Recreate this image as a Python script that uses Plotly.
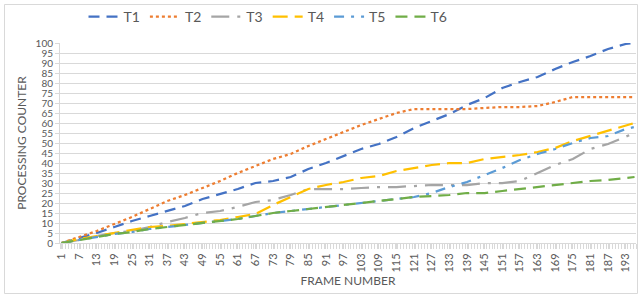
import plotly.graph_objects as go

frames = [1, 7, 13, 19, 25, 31, 37, 43, 49, 55, 61, 67, 73, 79, 85, 91, 97, 103, 109,
          115, 121, 127, 133, 139, 145, 151, 157, 163, 169, 175, 181, 187, 193, 196]

t1 = [0, 2.5, 5, 8, 11, 13.5, 16, 18.5, 22, 24.5, 27, 30, 31, 33, 37, 40, 43.5, 47, 49.5,
      53, 57.5, 61, 64.5, 69, 72.5, 77.5, 80.5, 83, 87, 90.5, 93.5, 97, 99.5, 100]
t2 = [0, 3, 6, 9.5, 13, 17, 21, 24, 27.5, 31, 35, 38.5, 42, 44.5, 48.5, 52, 55.5, 59, 62,
      65, 67, 67, 67, 67, 67.5, 68, 68, 68.5, 70.5, 73, 73, 73, 73, 73]
t3 = [0, 1.5, 3.5, 5, 6, 8, 10.5, 12.5, 15, 16, 18, 20.5, 21.5, 24, 27, 27, 27, 27.5, 28,
      28, 28.5, 29, 29, 29, 30, 30, 31, 35, 39, 42, 47, 49.5, 53, 55]
t4 = [0, 2, 3.5, 5, 6.5, 8, 8.5, 9.5, 10.5, 11.5, 13, 14.5, 19, 23, 27, 29, 30.5, 32.5, 33.5,
      36, 37.5, 39, 40, 40, 42, 43, 44, 45.5, 47.5, 51, 53.5, 56, 58.5, 60]
t5 = [0, 1.5, 3, 4.5, 5.5, 7, 8, 9, 10, 11, 12, 13.5, 15, 16, 17, 18, 19, 20, 21,
      22, 23, 25, 28, 30.5, 34, 37.5, 41.5, 44.5, 47, 50, 52.5, 53.5, 57, 58]
t6 = [0, 1.5, 3, 4.5, 5.5, 7, 8, 9, 10, 11, 12, 13.5, 15, 16, 17, 18, 19, 20, 21,
      22, 23, 23.5, 24, 25, 25, 26, 27, 28, 29, 30, 31, 31.5, 32.5, 33]

names = ["T1", "T2", "T3", "T4", "T5", "T6"]
series = [t1, t2, t3, t4, t5, t6]
colors = ["#4472C4", "#ED7D31", "#A5A5A5", "#FFC000", "#5B9BD5", "#70AD47"]
dashes = ["11px,7px", "3px,3px", "18px,8px,3px,8px", "15px,7px", "10px,7px,3px,7px", "12px,7px"]

xticks = list(range(1, 197, 6))
yticks = list(range(0, 101, 5))

fig = go.Figure()
for n, s, c, d in zip(names, series, colors, dashes):
    fig.add_trace(go.Scatter(x=frames, y=s, name=n, mode="lines",
                             line=dict(color=c, width=2.25, dash=d)))

W, H = 641, 297
ml, mr, mt, mb = 60, 5, 43, 54
pw, ph = W - ml - mr, H - mt - mb

def px(x):
    return (x - ml) / pw

def py(y):
    return (H - mb - y) / ph

fig.update_layout(
    width=W, height=H, autosize=False,
    margin=dict(l=ml, r=mr, t=mt, b=mb, pad=0, autoexpand=False),
    paper_bgcolor="white", plot_bgcolor="white",
    font=dict(family="Lato, sans-serif", color="#595959", size=12),
    showlegend=True,
    legend=dict(orientation="h", x=px(268), xanchor="center", y=py(17), yanchor="middle",
                font=dict(size=14, color="#595959"), itemwidth=30, tracegroupgap=0,
                bgcolor="rgba(0,0,0,0)"),
    xaxis=dict(range=[0.5, 196.5], tickmode="array", tickvals=xticks,
               ticktext=[str(v) for v in xticks], tickangle=-90, automargin=False,
               tickfont=dict(size=11, color="#595959"),
               showgrid=False, zeroline=False,
               showline=True, linecolor="#D9D9D9", linewidth=1,
               ticks="outside", ticklen=5, tickcolor="#D9D9D9",
               minor=dict(ticks="outside", dtick=1, tick0=0.5, ticklen=5,
                          tickcolor="#D9D9D9", showgrid=False),
               title=dict(text="FRAME NUMBER", font=dict(size=12, color="#595959"), standoff=2)),
    yaxis=dict(range=[0, 100], tickmode="array", tickvals=yticks, automargin=False,
               tickfont=dict(size=10, color="#595959"),
               showgrid=True, gridcolor="#D9D9D9", gridwidth=1, zeroline=False,
               showline=True, linecolor="#D9D9D9",
               ticks="outside", ticklen=4, tickcolor="#D9D9D9",
               title=dict(text="PROCESSING COUNTER", font=dict(size=12, color="#595959"), standoff=6)),
    shapes=[dict(type="rect", xref="paper", yref="paper",
                 x0=px(4.5), x1=px(637.5), y0=py(293.5), y1=py(4.5),
                 line=dict(color="#D9D9D9", width=1), fillcolor="rgba(0,0,0,0)", layer="below")],
)

fig.write_html("out.html", config={"displayModeBar": False},
               post_script="document.body.style.margin='0';document.body.style.overflow='hidden';")
